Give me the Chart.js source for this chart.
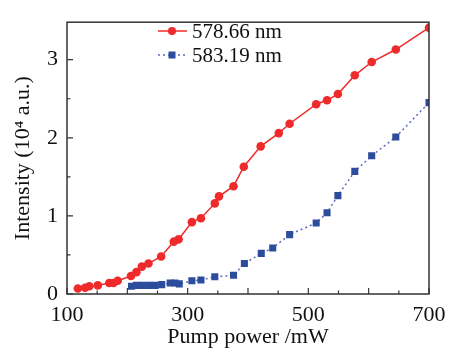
<!DOCTYPE html>
<html>
<head>
<meta charset="utf-8">
<script src="https://cdn.jsdelivr.net/npm/chart.js@4.4.0/dist/chart.umd.min.js"></script>
<style>
  html, body { margin: 0; padding: 0; background: #fff; }
  #wrap { width: 460px; height: 348px; }
</style>
</head>
<body>
<div id="wrap"><canvas id="chart"></canvas></div>
<script>
const redLabel = '578.66 nm';
const blueLabel = '583.19 nm';

const redX = [118, 130, 137, 151, 170, 177, 184, 206, 215, 224, 235, 256, 277, 285, 307, 322, 345, 352, 376, 393, 421, 451, 469, 513, 531, 549, 577, 605, 645, 700];
const redY = [0.07, 0.08, 0.10, 0.11, 0.14, 0.14, 0.17, 0.23, 0.28, 0.35, 0.39, 0.48, 0.67, 0.70, 0.92, 0.97, 1.16, 1.25, 1.38, 1.63, 1.89, 2.06, 2.18, 2.43, 2.48, 2.56, 2.80, 2.97, 3.13, 3.41];

const blueX = [207, 215, 225, 236, 246, 257, 271, 279, 286, 307, 322, 345, 376, 394, 422, 441, 469, 513, 531, 549, 577, 605, 645, 700];
const blueY = [0.10, 0.11, 0.11, 0.11, 0.11, 0.12, 0.14, 0.14, 0.13, 0.17, 0.18, 0.22, 0.24, 0.39, 0.52, 0.59, 0.76, 0.91, 1.04, 1.26, 1.57, 1.77, 2.01, 2.45];

const xLabels = [100, 300, 500, 700];
const yLabels = [0, 1, 2, 3];

const serif = '"Liberation Serif", "Times New Roman", serif';

// box, inward ticks and legend drawn on top of the library scales
const framePlugin = {
  id: 'frame',
  afterDraw(chart) {
    const { ctx, chartArea: a, scales } = chart;
    ctx.save();
    ctx.strokeStyle = '#333';
    ctx.lineWidth = 1.5;
    ctx.strokeRect(a.left, a.top, a.right - a.left, a.bottom - a.top);

    ctx.lineWidth = 1.2;
    ctx.beginPath();
    for (let v = 100; v <= 700; v += 50) {
      const px = scales.x.getPixelForValue(v);
      const len = v % 100 === 0 ? 6 : 3.5;
      ctx.moveTo(px, a.bottom);
      ctx.lineTo(px, a.bottom - len);
    }
    for (let v = 0; v <= 3.0001; v += 0.5) {
      const py = scales.y.getPixelForValue(v);
      const len = Math.abs(v - Math.round(v)) < 1e-6 ? 6 : 3.5;
      ctx.moveTo(a.left, py);
      ctx.lineTo(a.left + len, py);
    }
    ctx.stroke();

    // legend
    const ds = chart.data.datasets;
    const rows = [31, 55];
    ds.forEach((d, i) => {
      const y = rows[i];
      ctx.strokeStyle = d.borderColor;
      ctx.lineWidth = d.borderWidth;
      ctx.setLineDash(d.borderDash || []);
      ctx.beginPath();
      ctx.moveTo(158, y);
      ctx.lineTo(187, y);
      ctx.stroke();
      ctx.setLineDash([]);
      ctx.fillStyle = d.pointBackgroundColor;
      if (d.pointStyle === 'rect') {
        ctx.fillRect(172 - 3.5, y - 3.5, 7, 7);
      } else {
        ctx.beginPath();
        ctx.arc(172, y, 4, 0, Math.PI * 2);
        ctx.fill();
      }
      ctx.fillStyle = '#111';
      ctx.font = '21px ' + serif;
      ctx.textBaseline = 'middle';
      ctx.textAlign = 'left';
      ctx.fillText(d.label, 192, y + 1);
    });
    ctx.restore();
  }
};

new Chart(document.getElementById('chart'), {
  type: 'line',
  data: {
    datasets: [
      {
        label: redLabel,
        data: redX.map((x, i) => ({ x, y: redY[i] })),
        borderColor: '#ee2a2a',
        backgroundColor: '#ee2a2a',
        pointBackgroundColor: '#ee2a2a',
        pointBorderColor: '#ee2a2a',
        borderWidth: 1.5,
        pointRadius: 4.3,
        pointBorderWidth: 0,
        pointStyle: 'circle',
        tension: 0
      },
      {
        label: blueLabel,
        data: blueX.map((x, i) => ({ x, y: blueY[i] })),
        borderColor: '#5a6cc4',
        backgroundColor: '#2c4c9c',
        pointBackgroundColor: '#2c4c9c',
        pointBorderColor: '#2c4c9c',
        borderWidth: 1.5,
        borderDash: [2, 3],
        pointRadius: 5,
        pointBorderWidth: 0,
        pointStyle: 'rect',
        tension: 0
      }
    ]
  },
  options: {
    responsive: true,
    maintainAspectRatio: false,
    animation: false,
    layout: { padding: { top: 12, right: 31, left: 0, bottom: 0 } },
    plugins: {
      legend: { display: false },
      tooltip: { enabled: false }
    },
    scales: {
      x: {
        type: 'linear',
        min: 100,
        max: 700,
        afterFit(s) { s.height = 54; },
        grid: { display: false, drawTicks: false },
        border: { display: false },
        ticks: {
          stepSize: 100,
          padding: 8,
          maxRotation: 0,
          autoSkip: false,
          color: '#111',
          font: { family: serif, size: 22 },
          callback: v => xLabels.includes(v) ? String(v) : ''
        },
        title: {
          display: true,
          text: 'Pump power /mW',
          color: '#111',
          font: { family: serif, size: 22 },
          padding: { top: 0, bottom: -2 }
        }
      },
      y: {
        min: 0,
        max: 3.48,
        afterFit(s) { s.width = 67; },
        grid: { display: false, drawTicks: false },
        border: { display: false },
        ticks: {
          stepSize: 0.5,
          padding: 9,
          color: '#111',
          font: { family: serif, size: 22 },
          callback: v => yLabels.includes(v) ? String(v) : ''
        },
        title: {
          display: true,
          text: 'Intensity (10⁴ a.u.)',
          color: '#111',
          font: { family: serif, size: 22 },
          padding: { top: 10, bottom: 0 }
        }
      }
    }
  },
  plugins: [framePlugin]
});
</script>
</body>
</html>
